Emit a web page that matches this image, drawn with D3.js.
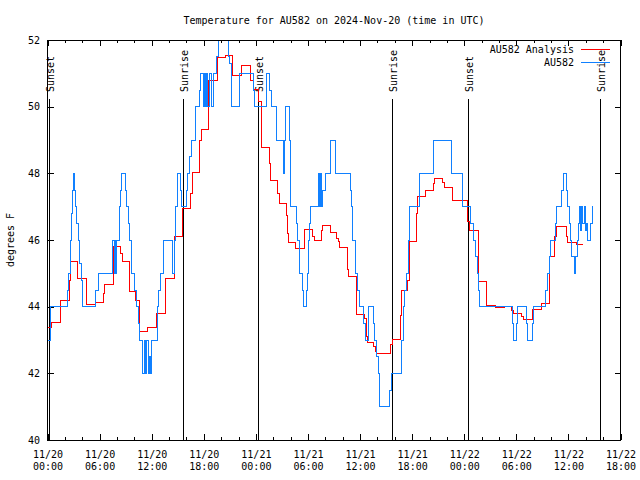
<!DOCTYPE html>
<html><head><meta charset="utf-8">
<script src="https://cdn.jsdelivr.net/npm/d3@7"></script>
<style>
body{margin:0;background:#fff;}
svg text{font-family:"DejaVu Sans Mono",monospace;font-size:10px;fill:#000;}
</style></head><body>
<svg id="chart" width="640" height="480"></svg>
<script>
const titleText = "Temperature for AU582 on 2024-Nov-20 (time in UTC)";
const yLabelText = "degrees F";
const seriesNames = ["AU582 Analysis", "AU582"];
const seriesColors = ["#ff0000", "#1080ff"];
const startTime = "2024-11-20T00:00:00Z";
const endTime = "2024-11-22T18:00:00Z";
const yDomain = [40, 52];
const yTicks = [40, 42, 44, 46, 48, 50, 52];
const sunsetTimes = ["2024-11-20T00:09:00Z", "2024-11-21T00:17:00Z", "2024-11-22T00:24:00Z"];
const sunriseTimes = ["2024-11-20T15:34:00Z", "2024-11-21T15:38:00Z", "2024-11-22T15:40:00Z"];

// hours since 2024-11-20 00:00 UTC where the value changes (step after)
const analysisHours = [0,0.5,1.5,2.5,2.6,3.4,3.5,4.5,5.55,6.5,6.6,7.55,8.45,8.6,9.5,10.1,10.55,11.5,12.6,13.6,14.6,15.55,16.5,16.7,17.5,17.75,18.5,19.6,20.45,21.3,22.4,23.4,23.7,24.3,24.65,25.6,25.7,26.5,26.7,27.5,27.65,27.75,28.55,29.6,30.55,30.8,31.55,31.7,32.55,33.3,33.5,33.6,34.5,34.7,35.6,36.5,36.7,36.9,37.5,37.8,37.95,39.5,39.7,40.65,40.8,41.5,41.65,42.55,42.65,43.55,44.45,44.55,45.55,45.75,46.65,46.7,48.35,48.55,49.6,50.6,51.6,52.6,53.5,53.7,54.6,54.8,55.85,56.85,57.85,58.45,58.65,59.8,59.9,60.95,61.7];
const analysisTemps = [43.37,43.53,44.2,44.8,45.37,45.1,44.85,44.07,44.13,44.4,44.67,45.8,45.6,45.35,44.47,44.2,43.27,43.39,43.8,44.85,46.12,46.95,47.4,48.02,49.0,49.32,50.8,51.48,51.55,50.95,51.25,50.8,50.52,50.15,48.78,48.3,47.8,47.4,47.1,46.75,46.2,45.92,45.75,46.32,46.1,46.0,46.3,46.45,46.23,46.05,45.95,45.78,45.12,44.9,43.77,43.65,43.1,42.92,42.8,42.65,42.6,42.88,43.02,43.75,44.48,44.8,45.97,46.8,47.3,47.48,47.7,47.85,47.72,47.58,47.4,47.2,46.55,46.3,44.75,44.04,43.98,44.0,43.9,43.8,43.7,43.62,43.92,44.1,45.5,46.1,46.42,46.1,45.92,45.88,45.88];

const obsHours = [0,0.30,2.30,2.42,2.65,2.76,2.83,2.95,3.11,3.23,3.38,3.53,3.72,3.92,4.03,5.56,5.83,7.49,7.67,7.79,7.90,7.98,8.29,8.44,8.53,9.02,9.14,9.29,9.40,9.68,10.06,10.25,10.44,10.63,10.98,11.18,11.32,11.44,11.59,11.75,11.84,11.98,12.63,12.82,13.02,13.40,14.40,14.63,14.78,14.98,15.32,15.41,16.01,16.16,16.39,16.59,17.05,17.47,17.63,17.93,18.06,18.18,18.29,18.47,18.70,18.89,19.08,19.47,19.68,20.81,21.00,21.20,22.15,23.69,23.88,25.23,25.61,25.81,26.38,27.14,27.34,27.46,27.83,28.00,28.69,28.84,29.07,29.41,29.49,29.79,29.93,30.10,30.22,30.30,31.18,31.34,31.45,31.60,31.72,32.06,32.64,33.22,34.91,35.02,35.17,35.52,35.67,35.90,36.44,36.67,36.94,37.51,37.71,37.90,38.09,38.28,39.44,39.63,40.78,40.97,41.16,41.36,41.54,41.74,42.81,44.42,46.54,47.76,48.73,49.03,49.29,49.49,49.61,49.72,53.57,53.72,54.07,54.18,55.18,55.33,55.91,55.99,57.41,57.58,57.79,57.98,58.48,58.68,59.25,59.40,59.79,59.94,60.12,60.23,60.40,60.67,60.86,61.04,61.21,61.32,61.44,61.55,61.67,61.84,61.96,62.13,62.25,62.56,62.76,62.86];
const obsTemps = [43.0,44.0,44.5,45.0,46.0,46.8,47.5,48.0,47.5,47.0,46.5,46.0,45.3,44.8,44.0,44.5,45.0,46.0,45.0,46.0,45.0,46.0,47.0,47.5,48.0,47.5,47.0,46.5,46.0,45.0,44.5,44.0,43.5,43.0,42.0,43.0,42.0,43.0,42.0,42.5,42.0,43.0,44.0,44.5,45.0,46.0,45.0,46.0,47.0,48.0,47.5,47.0,47.5,48.0,48.5,49.0,50.0,50.5,51.0,50.0,51.0,50.0,51.0,50.0,51.0,50.0,51.0,51.5,52.0,51.5,51.3,50.0,51.0,50.5,50.0,51.0,50.5,50.0,49.0,48.0,49.0,50.0,49.0,47.0,46.5,46.0,45.0,44.5,44.0,44.5,45.0,46.0,46.5,47.0,48.0,47.0,48.0,47.0,47.5,48.0,49.0,48.0,47.5,47.0,46.0,45.0,44.5,44.0,43.5,43.0,44.0,43.5,43.0,42.5,42.0,41.0,41.5,42.0,43.0,44.0,44.5,45.0,46.0,47.0,48.0,49.0,48.0,47.0,46.5,46.0,45.5,45.0,44.5,44.0,43.5,43.0,43.5,44.0,43.5,43.0,43.5,44.0,44.5,45.0,45.5,46.0,46.5,47.0,47.5,48.0,47.5,47.0,46.5,46.0,45.5,45.0,45.5,46.0,46.5,47.0,46.3,47.0,46.5,47.0,46.3,46.5,46.0,46.5,47.0,47.0];

const svg = d3.select("#chart");
const m = {left: 47.5, right: 620.5, top: 40, bottom: 440};
const t0 = new Date(startTime);
const toDate = h => new Date(t0.getTime() + h * 3600e3);

const x = d3.scaleUtc().domain([new Date(startTime), new Date(endTime)]).range([m.left, m.right]);
const y = d3.scaleLinear().domain(yDomain).range([m.bottom, m.top]);

svg.append("rect").attr("width", 640).attr("height", 480).attr("fill", "#fff");

// title
svg.append("text").attr("x", (m.left + m.right) / 2).attr("y", 24)
  .attr("text-anchor", "middle").text(titleText);

// y label
svg.append("text").attr("transform", `translate(14,${(m.top + m.bottom) / 2}) rotate(-90)`)
  .attr("text-anchor", "middle").text(yLabelText);

function styleAxis(g) {
  g.select(".domain").remove();
  g.selectAll("line").attr("stroke", "#000").attr("shape-rendering", "crispEdges");
  g.attr("font-family", null).attr("font-size", null);
}

// bottom axis major
const xMajor = svg.append("g").attr("transform", `translate(0,${m.bottom})`)
  .call(d3.axisBottom(x).ticks(d3.utcHour.every(6)).tickSize(-6).tickFormat(""))
  .call(styleAxis);
const fmtD = d3.utcFormat("%m/%d"), fmtT = d3.utcFormat("%H:%M");
xMajor.selectAll(".tick").each(function(d) {
  const g = d3.select(this);
  g.select("text").remove();
  const t = g.append("text").attr("text-anchor", "middle");
  t.append("tspan").attr("x", 0).attr("y", 18).text(fmtD(d));
  t.append("tspan").attr("x", 0).attr("y", 29.5).text(fmtT(d));
});
svg.append("g").attr("transform", `translate(0,${m.bottom})`)
  .call(d3.axisBottom(x).ticks(d3.utcHour.every(2)).tickSize(-3).tickFormat(""))
  .call(styleAxis);
// top mirror
svg.append("g").attr("transform", `translate(0,${m.top})`)
  .call(d3.axisTop(x).ticks(d3.utcHour.every(6)).tickSize(-6).tickFormat(""))
  .call(styleAxis);
svg.append("g").attr("transform", `translate(0,${m.top})`)
  .call(d3.axisTop(x).ticks(d3.utcHour.every(2)).tickSize(-3).tickFormat(""))
  .call(styleAxis);
// left axis
svg.append("g").attr("transform", `translate(${m.left},0)`)
  .call(d3.axisLeft(y).tickValues(yTicks).tickSize(-6).tickPadding(7.5).tickFormat(d3.format("d")))
  .call(styleAxis);
// right mirror
svg.append("g").attr("transform", `translate(${m.right},0)`)
  .call(d3.axisRight(y).tickValues(yTicks).tickSize(-6).tickFormat(""))
  .call(styleAxis);

// clip
svg.append("clipPath").attr("id", "plotclip").append("rect")
  .attr("x", m.left).attr("y", m.top).attr("width", m.right - m.left).attr("height", m.bottom - m.top);

// sunrise / sunset markers
const sunEvents = sunsetTimes.map(t => ({t, label: "Sunset"}))
  .concat(sunriseTimes.map(t => ({t, label: "Sunrise"})));
const lineTop = m.bottom - 0.8525 * (m.bottom - m.top);
const labelStart = m.bottom - 0.87 * (m.bottom - m.top);
sunEvents.forEach(e => {
  const xp = Math.round(x(new Date(e.t))) + 0.5;
  svg.append("line").attr("x1", xp).attr("x2", xp).attr("y1", m.bottom).attr("y2", lineTop)
    .attr("stroke", "#000").attr("shape-rendering", "crispEdges");
  svg.append("text").attr("transform", `translate(${xp + 1},${labelStart}) rotate(-90)`)
    .attr("dy", "0.35em").text(e.label);
});

// data
const analysis = analysisHours.map((h, i) => ({t: toDate(h), v: analysisTemps[i]}));
const obs = obsHours.map((h, i) => ({t: toDate(h), v: obsTemps[i]}));
const line = d3.line().x(d => x(d.t)).y(d => y(d.v)).curve(d3.curveStepAfter);
const plot = svg.append("g").attr("clip-path", "url(#plotclip)");
[analysis, obs].forEach((data, i) => {
  plot.append("path").datum(data).attr("d", line).attr("fill", "none")
    .attr("stroke", seriesColors[i]).attr("stroke-width", 1).attr("shape-rendering", "crispEdges");
});

// frame
svg.append("rect").attr("x", m.left).attr("y", m.top)
  .attr("width", m.right - m.left).attr("height", m.bottom - m.top)
  .attr("fill", "none").attr("stroke", "#000").attr("shape-rendering", "crispEdges");

// legend
const legendY = [49.5, 62];
seriesNames.forEach((name, i) => {
  svg.append("text").attr("x", 574).attr("y", legendY[i]).attr("dy", "0.35em")
    .attr("text-anchor", "end").text(name);
  svg.append("line").attr("x1", 581).attr("x2", 610).attr("y1", legendY[i]).attr("y2", legendY[i])
    .attr("stroke", seriesColors[i]).attr("shape-rendering", "crispEdges");
});
</script>
</body></html>
